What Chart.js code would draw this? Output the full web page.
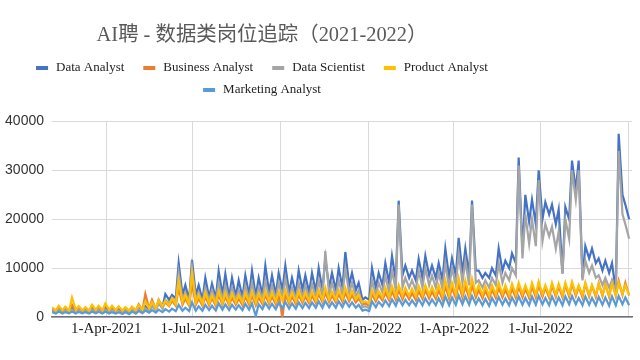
<!DOCTYPE html>
<html><head><meta charset="utf-8">
<script src="https://cdn.jsdelivr.net/npm/chart.js@4.4.1/dist/chart.umd.min.js"></script>
<style>
html,body{margin:0;padding:0;background:#fff;overflow:hidden;width:640px;height:360px;}
#wrap{position:absolute;left:-120px;top:0;width:760px;height:360px;}
</style></head><body>
<div id="wrap"><canvas id="c" width="760" height="360"></canvas></div>
<script>
// ---- data (two readings per week: Wednesday and Sunday) ----
const titleText = 'AI聘 - 数据类岗位追踪（2021-2022）';
const startDate = '2021-02-03';
const endDate = '2022-10-05';
const tickDates = ['2021-04-01','2021-07-01','2021-10-01','2022-01-01','2022-04-01','2022-07-01','2022-10-01'];
const tickLabels = ['1-Apr-2021','1-Jul-2021','1-Oct-2021','1-Jan-2022','1-Apr-2022','1-Jul-2022',''];
const seriesNames = ['Data Analyst','Business Analyst','Data Scientist','Product Analyst','Marketing Analyst'];
const seriesColors = ['#4472C4','#ED7D31','#A5A5A5','#FFC000','#5B9BD5'];
const yTicks = [0,10000,20000,30000,40000];

const dataAnalyst = [
1500,1000,1700,1000,1600,1100,1800,1000,1700,1100,1600,1000,1800,1100,1700,1000,1900,1000,1700,1100,1600,900,1700,1000,1800,1100,2000,1200,
2200,1300,2600,1500,3500,2000,4700,3500,4500,3800,11000,4500,6500,3500,11700,4500,
6500,3500,8000,4000,6800,3800,9400,4500,8800,4000,8000,4200,7500,4000,8500,4500,9500,4200,8000,4500,10500,5000,8500,4500,
9000,5500,10500,5000,8000,4800,9500,5500,8500,5000,9000,5200,10000,5500,12000,6000,9000,5500,10000,6000,13300,6500,9000,5500,7000,3500,4000,3500,
10000,6000,9000,6500,11000,7000,12500,7500,23800,8500,10500,8000,9500,7500,11900,8000,12500,8500,10500,8000,11000,7500,14000,8000,12000,8500,16200,9000,14000,8500,23800,9500,
9500,8000,9000,8000,10000,8500,14000,9500,11500,10000,13000,11000,32600,13500,25000,19500,24000,19000,30000,20000,23500,21000,23000,19000,22000,9000,22500,20000,32000,26000,32000,8000,14500,12000,14000,11000,12000,9500,11500,9000,11000,5500,37500,25000,23000,20000
];
const businessAnalyst = [
1800,1200,2000,1300,1900,1200,2500,1300,2000,1300,1800,1200,2200,1300,2100,1300,2400,1400,2000,1300,2000,1200,1900,1200,2000,1300,2600,1400,
4700,1700,3500,1700,3000,2000,3000,2200,3300,2300,6000,2500,3800,2300,7000,2500,
3800,2300,4200,2400,3900,2300,4500,2500,4200,2400,4000,2500,3800,2400,4200,2500,4400,2400,4000,2600,4500,2700,4200,2600,
4400,100,4700,2700,4200,2700,4500,2900,4200,2800,4400,2900,4700,3000,5000,3100,4400,3000,4700,3100,5000,3200,4500,3000,3800,2500,2800,2300,
4700,3200,4500,3400,5000,3400,5300,3500,5500,3600,5000,3600,4900,3500,5300,3700,5500,3800,5200,3700,5500,3600,6300,3800,6000,3900,6800,4000,6300,3900,6500,4000,
5500,3800,5400,3700,5600,3900,6000,4000,5600,3800,5900,3900,6200,4000,5800,3900,6300,4000,6500,4100,6000,4000,6500,4100,6300,4000,6600,4200,6800,4300,6200,4000,6800,4200,6400,4100,6900,4300,6700,4100,7200,4300,7400,4500,7000,4400
];
const dataScientist = [
1300,900,1400,900,1300,1000,1500,900,1400,1000,1300,900,1500,1000,1400,900,1500,900,1400,1000,1300,800,1400,900,1500,1000,1600,1000,
1800,1100,2200,1300,2800,1700,3500,2800,3800,3000,9000,3500,5000,3000,10000,3500,
5000,3000,6000,3300,5500,3200,7000,3500,6500,3300,6000,3500,5500,3300,6500,3500,7000,3400,6000,3600,7500,3800,6500,3600,
7000,4000,8000,3800,6000,3700,7000,4000,6500,3800,6800,4000,7500,4200,13500,4500,7000,4200,7500,4500,10000,4800,7000,4200,5500,2000,2200,1800,
7500,4500,7000,5000,8500,5000,9500,5500,23000,6000,8000,6000,7500,5500,9500,6000,10000,6500,8500,6000,9000,5800,11000,6000,10000,6500,13000,7000,11500,6500,23000,7000,
7500,6000,7500,6000,8000,6500,11000,7000,9000,7500,10000,8500,31000,12000,21000,15000,20000,14500,28000,15500,19000,16500,18500,14000,17500,8800,20000,16000,30000,24000,30000,7500,11500,9000,10500,8000,8500,6500,8000,6000,7500,5000,34000,21000,19000,16000
];
const productAnalyst = [
2000,1300,2300,1400,2100,1300,4000,1500,2200,1400,2000,1300,2500,1500,2300,1400,2800,1500,2300,1400,2200,1300,2000,1300,2100,1400,2400,1500,
3200,1800,3000,1800,3500,2200,3300,2400,3800,2600,7500,3000,4500,2600,9000,3000,
4500,2700,5000,2800,4500,2700,5300,2900,5000,2800,4800,3000,4500,2900,5000,3000,5200,2900,4800,3100,5300,3200,5000,3100,
5200,3300,5500,3200,5000,3200,5300,3400,5000,3300,5200,3400,5500,3500,6000,3600,5200,3500,5500,3700,6000,3800,5300,3600,4500,3000,3200,2800,
5500,3800,5300,4000,6000,4000,6300,4200,6500,4300,6000,4300,5800,4200,6300,4400,6500,4500,6200,4400,6500,4300,7500,4500,7000,4600,8000,4800,7500,4600,7800,4800,
6500,4500,6300,4400,6500,4600,7000,4700,6500,4500,6800,4600,7000,4700,6500,4500,7000,4600,7200,4700,6500,4500,7000,4600,6800,4500,7000,4700,7200,4800,6500,4500,7000,4600,6500,4500,6800,4600,6500,4400,6800,4500,7000,4700,6500,4500
];
const marketingAnalyst = [
1000,700,1100,700,1000,750,1100,700,1050,750,1000,700,1100,750,1050,700,1100,700,1000,700,950,600,1000,600,1100,700,1200,800,
1300,900,1400,900,1500,1000,1600,1100,1700,1200,2500,1300,1900,1200,3000,1300,
2200,1300,2500,1400,2300,1300,2800,1500,2600,1400,2500,1500,2400,1400,2700,1500,2800,200,2600,1600,2900,1700,2700,1600,
2900,1800,3100,1700,2800,1700,3000,1800,2900,1800,3000,1900,3200,1900,3300,2000,3000,1900,3200,2000,3300,2100,3000,1900,2500,1300,1500,1200,
3200,2000,3100,2200,3400,2200,3600,2300,3800,2400,3500,2400,3400,2300,3700,2400,3800,2500,3600,2400,3800,2300,4200,2400,4000,2500,4400,2600,4200,2500,4300,2600,
3800,2400,3700,2300,3900,2500,4100,2500,3800,2400,4000,2500,4200,2500,3900,2400,4200,2500,4300,2600,3900,2400,4200,2500,4000,2400,4200,2600,4300,2600,3900,2400,4200,2500,3900,2400,4100,2500,4000,2300,4200,2400,4300,2600,4000,2400
];
const seriesValues = [dataAnalyst, businessAnalyst, dataScientist, productAnalyst, marketingAnalyst];

// ---- build ----
const dayOf = s => Math.round((Date.parse(s) - Date.parse(startDate)) / 86400000);
const sampleDay = i => Math.floor(i / 2) * 7 + (i % 2 ? 4 : 0); // Wednesday / Sunday of each week
const tickDays = tickDates.map(dayOf);

const datasets = seriesNames.map((name, k) => ({
  label: name,
  data: seriesValues[k].map((v, i) => ({x: sampleDay(i), y: v})),
  borderColor: seriesColors[k],
  backgroundColor: seriesColors[k],
  borderWidth: 2.2,
  pointRadius: 0,
  tension: 0,
  order: seriesNames.length - k
}));

// legend that wraps into centred rows like the original
const wrapLegend = {
  id: 'wrapLegend',
  afterDraw(chart, args, opts) {
    const ctx = chart.ctx;
    ctx.save();
    ctx.font = opts.font;
    ctx.textBaseline = 'middle';
    ctx.textAlign = 'left';
    const items = chart.data.datasets.map(d => ({ text: d.label, color: d.borderColor,
      w: opts.boxWidth + opts.boxGap + ctx.measureText(d.label).width }));
    const rows = []; let cur = [], curW = 0;
    items.forEach(it => {
      const add = (cur.length ? opts.itemGap : 0) + it.w;
      if (cur.length && curW + add > opts.maxRowWidth) { rows.push({ items: cur, w: curW }); cur = [it]; curW = it.w; }
      else { cur.push(it); curW += add; }
    });
    rows.push({ items: cur, w: curW });
    const tb = chart.titleBlock;
    const cx = (tb.left + tb.right) / 2;
    rows.forEach((r, ri) => {
      let x = cx - r.w / 2;
      const y = opts.top + ri * opts.rowHeight;
      r.items.forEach(it => {
        ctx.fillStyle = it.color;
        ctx.fillRect(x, y - opts.boxHeight / 2, opts.boxWidth, opts.boxHeight);
        ctx.fillStyle = opts.color;
        ctx.fillText(it.text, x + opts.boxWidth + opts.boxGap, y);
        x += it.w + opts.itemGap;
      });
    });
    ctx.restore();
  }
};

new Chart(document.getElementById('c'), {
  type: 'line',
  data: { datasets },
  plugins: [wrapLegend],
  options: {
    responsive: false,
    animation: false,
    devicePixelRatio: 1,
    layout: { padding: { left: 12, right: 8, top: 0, bottom: 19 } },
    plugins: {
      tooltip: { enabled: false },
      legend: { display: false },
      wrapLegend: {
        font: "13px 'Liberation Serif', serif", color: '#222',
        boxWidth: 12, boxHeight: 4, boxGap: 8, itemGap: 19,
        maxRowWidth: 480, top: 68, rowHeight: 22
      },
      title: {
        display: true,
        text: titleText,
        color: '#595959',
        font: { family: "'Liberation Serif', 'Noto Sans CJK SC', serif", size: 20.4, weight: 'normal' },
        padding: { top: 23, bottom: 74 }
      }
    },
    scales: {
      x: {
        type: 'linear',
        min: 0,
        max: dayOf(endDate),
        afterBuildTicks: (scale) => { scale.ticks = tickDays.map(v => ({ value: v })); },
        ticks: {
          autoSkip: false,
          maxRotation: 0,
          padding: 3,
          color: '#222',
          font: { family: "'Liberation Serif', serif", size: 15 },
          callback: (v) => { const i = tickDays.indexOf(v); return i >= 0 ? tickLabels[i] : ''; }
        },
        grid: { color: '#d9d9d9', lineWidth: 1, drawTicks: false },
        border: { display: true, color: '#6f6f7a', width: 1.5 }
      },
      y: {
        min: 0,
        max: 40000,
        afterBuildTicks: (scale) => { scale.ticks = yTicks.map(v => ({ value: v })); },
        afterFit: (scale) => { scale.width = 160; },
        ticks: {
          padding: 8,
          color: '#333',
          font: { family: "'Liberation Sans', sans-serif", size: 14 },
          callback: (v) => String(v)
        },
        grid: { color: '#d9d9d9', lineWidth: 1, drawTicks: false },
        border: { display: false }
      }
    }
  }
});
</script>
</body></html>
